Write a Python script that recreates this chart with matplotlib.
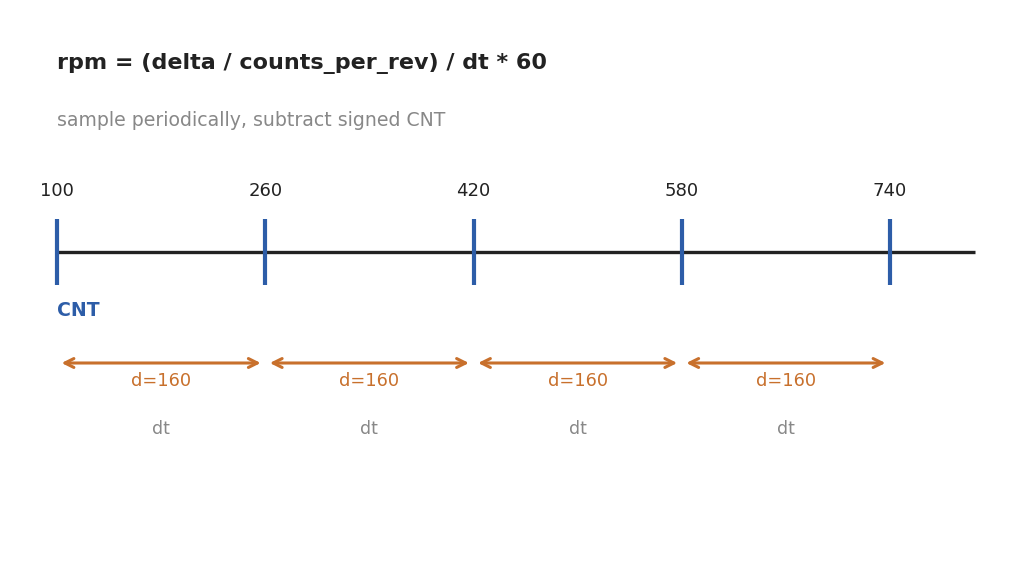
import numpy as np
import matplotlib.pyplot as plt

# sampled CNT values
samples = [100, 260, 420, 580, 740]
deltas = [b - a for a, b in zip(samples[:-1], samples[1:])]
axis_end = 805

title = 'rpm = (delta / counts_per_rev) / dt * 60'
subtitle = 'sample periodically, subtract signed CNT'

blue = '#2d5da8'
orange = '#c8702c'
gray = '#888888'
dark = '#222222'

fig = plt.figure(figsize=(10.29, 5.84), dpi=100)
ax = fig.add_axes([0, 0, 1, 1])
# x in counts, y in pixel rows (top = 0)
ax.set_xlim(56.2, 846.8)
ax.set_ylim(584, 0)
ax.axis('off')

ax.text(samples[0], 64, title, fontsize=16, fontweight='bold', color=dark, va='center', ha='left')
ax.text(samples[0], 120, subtitle, fontsize=13.6, color=gray, va='center', ha='left')

ax.plot([samples[0], axis_end], [252, 252], color=dark, lw=2.4, solid_capstyle='butt', zorder=1)
for s in samples:
    ax.plot([s, s], [219, 285], color=blue, lw=3, solid_capstyle='butt', zorder=2)
    ax.text(s, 191, str(s), fontsize=13, color=dark, ha='center', va='center')

ax.text(samples[0], 310, 'CNT', fontsize=13.6, fontweight='bold', color=blue, ha='left', va='center')

for a, b, d in zip(samples[:-1], samples[1:], deltas):
    ax.annotate('', xy=(b - 3.5, 363), xytext=(a + 3.5, 363),
                arrowprops=dict(arrowstyle='<->', color=orange, lw=2.2,
                                shrinkA=0, shrinkB=0, mutation_scale=16))
    mid = (a + b) / 2
    ax.text(mid, 381, f'd={d}', fontsize=12.8, color=orange, ha='center', va='center')
    ax.text(mid, 429, 'dt', fontsize=12.5, color=gray, ha='center', va='center')

fig.savefig('out.png', dpi=100)
